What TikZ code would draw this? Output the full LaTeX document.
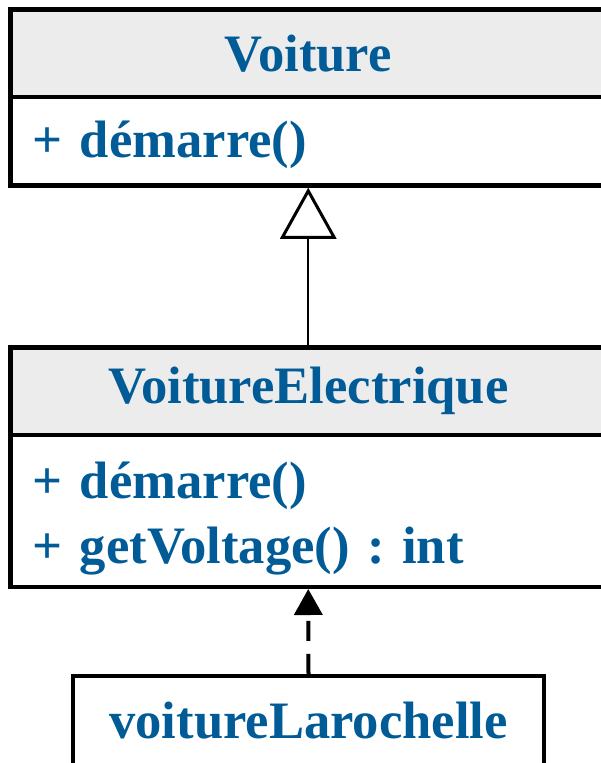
\documentclass[tikz,border=0pt]{standalone}
\usepackage{fontspec}
\setmainfont{Liberation Serif}
\usepackage{tikz}
\usetikzlibrary{arrows.meta,positioning}
\definecolor{umlblue}{RGB}{0,91,150}
\definecolor{headgray}{RGB}{236,236,236}
\frenchspacing

\begin{document}
\begin{tikzpicture}[
    x=1pt, y=-1pt,
    every node/.style={font=\fontsize{52.6}{64}\selectfont\bfseries, text=umlblue},
    classhead/.style={draw, line width=4.5pt, fill=headgray, minimum width=595.5pt, minimum height=87.5pt, inner sep=0pt},
    classbody/.style={draw, line width=4.5pt, fill=white, minimum width=595.5pt, inner xsep=22pt, text width=551.5pt, align=left},
    lower text/.style={execute at begin node={\rule{0pt}{#1}}},
    objbox/.style={draw, line width=4.5pt, fill=white, minimum width=471pt, minimum height=90pt, inner sep=0pt},
    inherit/.style={line width=2pt, -{Triangle[open, length=51pt, width=56pt, line width=3pt]}},
    instof/.style={line width=4pt, dash pattern=on 20pt off 13pt, -{Triangle[length=26pt, width=28pt]}}
]
\useasboundingbox (0,0) rectangle (601,763);
\clip (0,0) rectangle (601,763);

% classe Voiture
\node[classhead] (voiture) at (308.25,53.25) {Voiture};
\node[classbody, lower text=44pt, minimum height=88.5pt, below=-4.5pt of voiture] (voiture-ops) {+ démarre()};

% classe VoitureElectrique
\node[classhead] (velec) at (308.25,391) {VoitureElectrique};
\node[classbody, lower text=52pt, minimum height=152pt, below=-4.5pt of velec] (velec-ops) {+ démarre()\\[1pt]+ getVoltage() : int};

% objet
\node[objbox] (laro) at (308.5,721) {voitureLarochelle};

\draw[inherit] (velec.north) -- (voiture-ops.south);
\draw[instof] (laro.north) -- (velec-ops.south);
\end{tikzpicture}
\end{document}
